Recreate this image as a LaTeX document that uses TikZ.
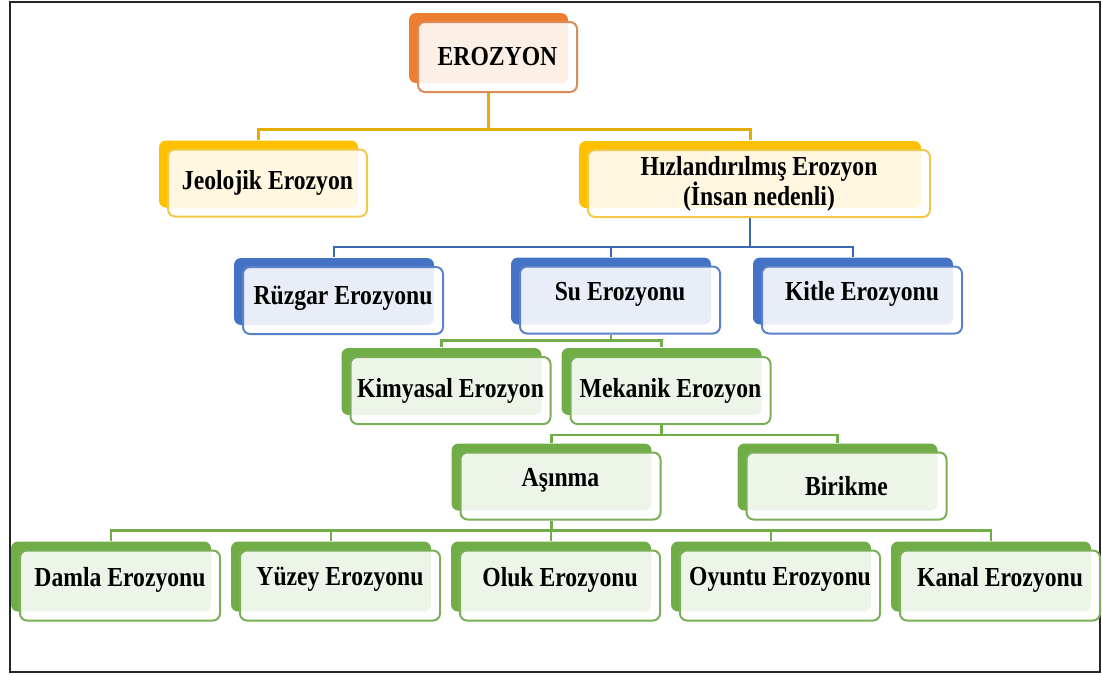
\documentclass[tikz,border=0pt]{standalone}
\usepackage{fontspec}
\setmainfont{Liberation Serif}[FakeStretch=0.86]
\usetikzlibrary{shadows}

\definecolor{orgback}{HTML}{ED7D31}
\definecolor{orgline}{HTML}{DB8A58}
\definecolor{yelback}{HTML}{FFC000}
\definecolor{yelline}{HTML}{F2C84B}
\definecolor{bluback}{HTML}{4472C4}
\definecolor{bluline}{HTML}{5A82C8}
\definecolor{grnback}{HTML}{70AD47}
\definecolor{grnline}{HTML}{7AAF58}

\begin{document}
\begin{tikzpicture}[x=1pt, y=-1pt, node distance=220pt,
    box/.style={rounded corners=7pt, line width=2pt, fill=white, fill opacity=0.88, text opacity=1,
      minimum width=200pt, minimum height=67pt, inner sep=1pt, align=center,
      font=\fontsize{27.5}{30}\selectfont\bfseries,
      copy shadow={shadow xshift=-9pt, shadow yshift=9pt, opacity=1, fill=#1, draw=none}},
    orgbox/.style={box=orgback, draw=orgline},
    yelbox/.style={box=yelback, draw=yelline},
    blubox/.style={box=bluback, draw=bluline},
    grnbox/.style={box=grnback, draw=grnline},
    lift/.style={text depth=18pt},
    link/.style={line width=2.5pt}]
          \useasboundingbox (0,0) rectangle (1102,675);
          \draw[line width=2pt, black!85] (10,2) rectangle (1100,672);

          \node[orgbox, minimum width=159pt, minimum height=70pt](0) at (497.5,57)    {EROZYON};
          \node[yelbox, minimum width=199pt](1)                       at (267.5,183)  {Jeolojik Erozyon};
          \node[yelbox, minimum width=342pt](2)                       at (759,183.5)  {Hızlandırılmış Erozyon\\(İnsan nedenli)};
          \node[blubox, text depth=10pt](3)   at (343,300.5)  {Rüzgar Erozyonu};
          \node[blubox, lift](4)   at (620,300)    {Su Erozyonu};
          \node[blubox, lift](5)   at (862,300)    {Kitle Erozyonu};
          \node[grnbox](6)   at (450.5,390.5) {Kimyasal Erozyon};
          \node[grnbox](7)   at (670.5,390.5) {Mekanik Erozyon};
          \node[grnbox, lift](8)   at (560.5,486)  {Aşınma};
          \node[grnbox](9)   at (846.5,486)  {Birikme};
          \node[grnbox, lift, minimum height=70pt](10)  at (120,585.5)  {Damla Erozyonu};
          \node[grnbox, lift, minimum height=70pt](11)  [right of = 10] {Yüzey Erozyonu};
          \node[grnbox, lift, minimum height=70pt](12)  [right of = 11] {Oluk Erozyonu};
          \node[grnbox, lift, minimum height=70pt](13)  [right of = 12] {Oyuntu Erozyonu};
          \node[grnbox, lift, minimum height=70pt](14)  [right of = 13] {Kanal Erozyonu};

          \draw[link, yelback!90!black, line width=3pt]
            ([xshift=-9pt]0.south) -- ++(0,36) -| ([shift={(-9pt,9pt)}]1.north)
            ([xshift=-9pt]0.south) -- ++(0,36) -| ([shift={(-9pt,9pt)}]2.north);
          \draw[link, bluback!90!black]
            ([xshift=-9pt]2.south) -- ++(0,29) -| ([shift={(-9pt,9pt)}]3.north)
            ([xshift=-9pt]2.south) -- ++(0,29) -| ([shift={(-9pt,9pt)}]4.north)
            ([xshift=-9pt]2.south) -- ++(0,29) -| ([shift={(-9pt,9pt)}]5.north);
          \draw[link, grnback]
            ([xshift=-9pt]4.south) -- ++(0,6) -| ([shift={(-9pt,9pt)}]6.north)
            ([xshift=-9pt]4.south) -- ++(0,6) -| ([shift={(-9pt,9pt)}]7.north);
          \draw[link, grnback]
            ([xshift=-9pt]7.south) -- ++(0,10) -| ([shift={(-9pt,9pt)}]8.north)
            ([xshift=-9pt]7.south) -- ++(0,10) -| ([shift={(-9pt,9pt)}]9.north);
          \draw[link, grnback]
            ([xshift=-9pt]8.south) -- ++(0,10) -| ([shift={(-9pt,9pt)}]10.north)
            ([xshift=-9pt]8.south) -- ++(0,10) -| ([shift={(-9pt,9pt)}]11.north)
            ([xshift=-9pt]8.south) -- ++(0,10) -| ([shift={(-9pt,9pt)}]12.north)
            ([xshift=-9pt]8.south) -- ++(0,10) -| ([shift={(-9pt,9pt)}]13.north)
            ([xshift=-9pt]8.south) -- ++(0,10) -| ([shift={(-9pt,9pt)}]14.north);
        \end{tikzpicture}
\end{document}
